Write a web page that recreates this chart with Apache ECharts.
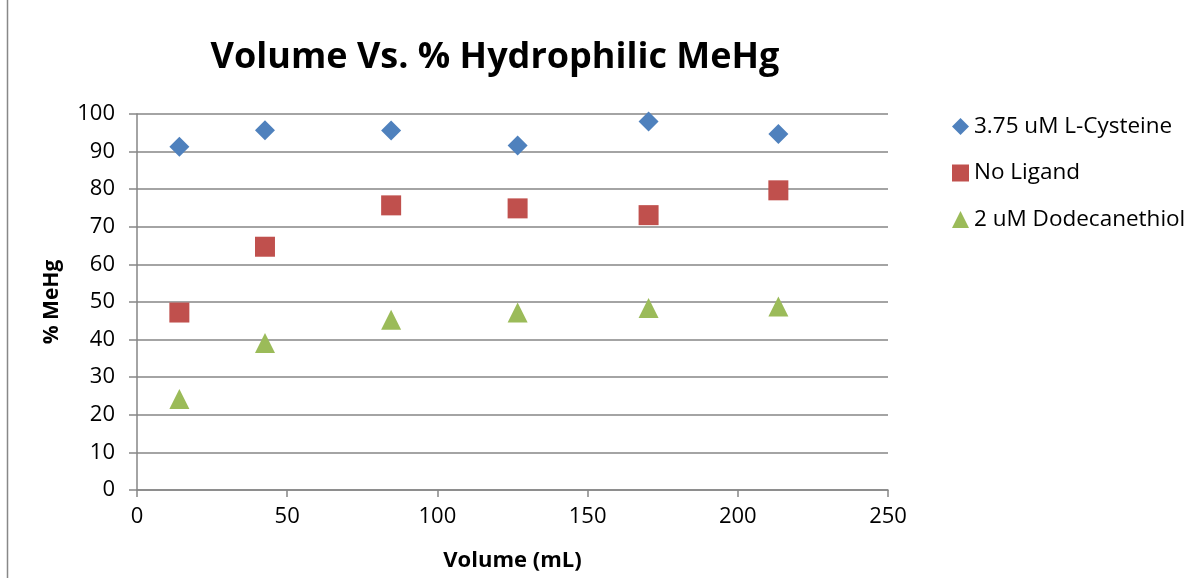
<!DOCTYPE html>
<html><head><meta charset="utf-8">
<script src="https://cdn.jsdelivr.net/npm/echarts@6/dist/echarts.min.js"></script>
<style>html,body{margin:0;padding:0;background:#fff}#c{width:1202px;height:578px}</style>
</head><body><div id="c"></div>
<script>
const volumes = [14.1, 42.6, 84.6, 126.7, 170.3, 213.5];
const lCysteine = [91.3, 95.7, 95.6, 91.6, 98.0, 94.7];
const noLigand = [47.2, 64.7, 75.7, 74.9, 73.1, 79.7];
const dodecanethiol = [24.2, 39.1, 45.3, 47.2, 48.4, 48.8];
const seriesNames = ['3.75 uM L-Cysteine', 'No Ligand', '2 uM Dodecanethiol'];
const FONT = 'Open Sans';
const pair = (xs, ys) => xs.map((x, i) => [x, ys[i]]);
const chart = echarts.init(document.getElementById('c'));
chart.setOption({
  animation: false,
  backgroundColor: '#fff',
  title: {
    text: 'Volume Vs. % Hydrophilic MeHg', left: 490, top: 35, textAlign: 'center',
    textStyle: { fontFamily: FONT, fontWeight: 'bold', fontSize: 36, color: '#000' }
  },
  graphic: [{ type: 'line', shape: { x1: 7.5, y1: 0, x2: 7.5, y2: 578 }, style: { stroke: '#888', lineWidth: 1.5 } }],
  legend: {
    orient: 'vertical', left: 947, top: 110, itemGap: 23.5, itemWidth: 17, itemHeight: 17,
    textStyle: { fontFamily: FONT, fontSize: 22.5, color: '#000' },
    data: seriesNames.map(n => ({ name: n }))
  },
  grid: { left: 137, right: 314, top: 114, bottom: 88, containLabel: false },
  xAxis: {
    type: 'value', min: 0, max: 250, interval: 50,
    name: 'Volume (mL)', nameLocation: 'middle', nameGap: 60,
    nameTextStyle: { fontFamily: FONT, fontWeight: 'bold', fontSize: 22, color: '#000' },
    axisLine: { show: true, lineStyle: { color: '#868686', width: 1.5 } },
    axisTick: { show: true, length: 7, lineStyle: { color: '#868686', width: 1.5 } },
    axisLabel: { fontFamily: FONT, fontSize: 22, color: '#000', margin: 16 },
    splitLine: { show: false }
  },
  yAxis: {
    type: 'value', min: 0, max: 100, interval: 10,
    name: '% MeHg', nameLocation: 'middle', nameGap: 74, nameRotate: 90,
    nameTextStyle: { fontFamily: FONT, fontWeight: 'bold', fontSize: 21, color: '#000' },
    axisLine: { show: true, lineStyle: { color: '#868686', width: 1.5 } },
    axisTick: { show: true, length: 8, lineStyle: { color: '#868686', width: 1.5 } },
    axisLabel: { fontFamily: FONT, fontSize: 22, color: '#000', margin: 22 },
    splitLine: { show: true, lineStyle: { color: '#868686', width: 1.5 } }
  },
  series: [
    { name: seriesNames[0], type: 'scatter', symbol: 'diamond', symbolSize: 20, itemStyle: { color: '#4F81BD', opacity: 1 }, data: pair(volumes, lCysteine) },
    { name: seriesNames[1], type: 'scatter', symbol: 'rect', symbolSize: 20, itemStyle: { color: '#C0504D', opacity: 1 }, data: pair(volumes, noLigand) },
    { name: seriesNames[2], type: 'scatter', symbol: 'triangle', symbolSize: 20, itemStyle: { color: '#9BBB59', opacity: 1 }, data: pair(volumes, dodecanethiol) }
  ]
});
</script></body></html>
